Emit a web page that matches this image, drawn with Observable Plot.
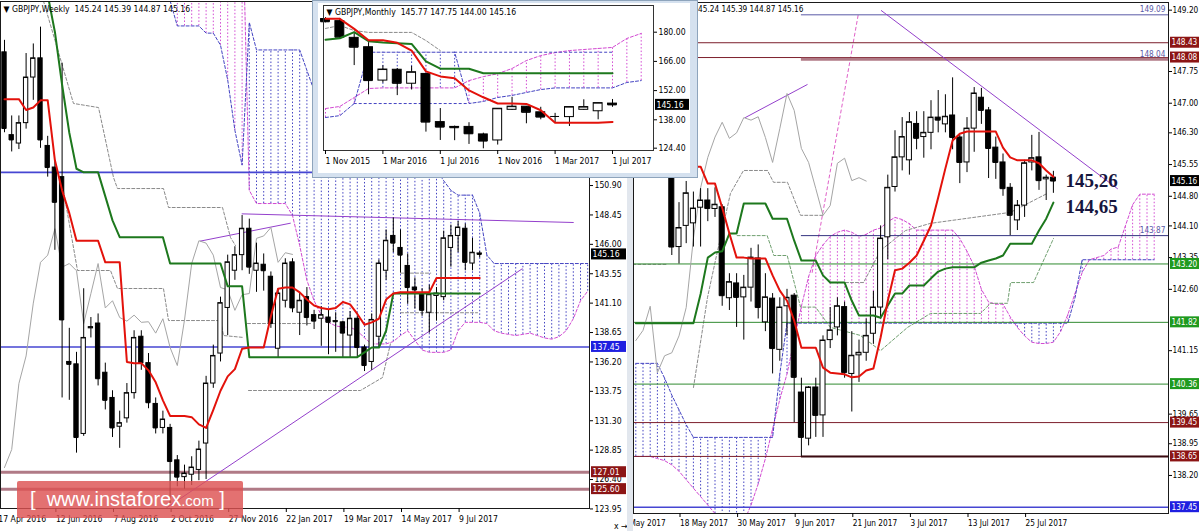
<!DOCTYPE html>
<html><head><meta charset="utf-8">
<script src="https://cdn.jsdelivr.net/npm/d3@7"></script>
<script src="https://cdn.jsdelivr.net/npm/@observablehq/plot@0.6"></script>
<style>
html,body{margin:0;padding:0;background:#fff;}
body{width:1200px;height:531px;position:relative;overflow:hidden;font-family:"DejaVu Sans Condensed","Liberation Sans",sans-serif;}
.abs{position:absolute;}
#sep{left:627px;top:0;width:6px;height:531px;background:#e2e7ee;}
#insetFrame{left:312px;top:0;width:386px;height:178px;background:#d5e1ef;border:1px solid #8ea4bc;box-sizing:border-box;}
#wm{left:17px;top:481px;width:226px;height:37px;background:rgba(221,82,82,0.82);border-radius:2px;color:#fff;font-family:"Liberation Sans",Arial,sans-serif;font-size:20px;line-height:37px;padding-left:13px;box-sizing:border-box;white-space:pre;}
#wm span{font-size:15px;}
</style></head>
<body>
<div id="left" class="abs" style="left:0;top:0"></div>
<div id="sep" class="abs"></div>
<div id="right" class="abs" style="left:633px;top:0"></div>
<div id="insetFrame" class="abs"></div>
<div id="inset" class="abs" style="left:318px;top:3px"></div>
<div id="wm" class="abs">[  www.instaforex<span>.com</span> ]</div>
<script>
// ================= WEEKLY (left panel) =================
const wkTitle = "\u25BC GBPJPY,Weekly  145.24 145.39 144.87 145.16";
const wkOpen  = [162.0,155.1,154.4,156.1,159.9,161.5,154.2,152.4,151.6,136.2,136.0,130.2,139.0,139.4,135.3,133.2,130.8,131.5,133.6,138.3,136.1,132.7,130.7,130.7,128.0,126.6,126.8,127.2,129.4,134.4,136.9,140.7,143.8,145.1,147.3,143.8,144.3,143.3,137.3,141.3,144.5,140.3,141.6,140.1,139.8,139.9,139.6,139.5,138.4,139.8,137.4,136.2,138.3,143.8,146.7,145.7,144.2,142.4,141.9,140.3,141.7,141.6,145.7,146.7,147.3,144.4,145.24];
const wkHigh  = [163.0,156.7,156.7,161.9,162.7,164.1,155.0,153.0,161.1,139.0,137.0,142.3,139.9,140.2,136.1,133.8,132.1,134.4,138.8,138.8,136.9,133.2,132.1,131.0,128.4,127.6,128.3,129.6,135.0,137.6,141.6,145.1,145.8,148.4,148.1,146.1,145.2,143.7,142.3,144.8,144.8,141.9,142.4,140.5,140.8,140.5,140.3,139.6,140.4,140.0,137.6,140.2,144.7,147.2,148.2,147.2,145.2,143.2,142.3,142.6,142.4,147.1,147.6,147.9,147.7,146.5,145.39];
const wkLow   = [155.3,153.7,153.9,155.6,158.0,154.0,151.6,145.5,133.2,133.0,128.6,130.0,138.2,134.2,132.2,129.9,129.0,131.1,133.1,135.5,132.3,130.2,130.2,124.4,125.8,125.6,125.9,126.3,126.4,134.0,136.2,138.4,143.0,143.8,143.5,142.0,142.1,139.0,136.5,140.7,140.3,138.4,139.2,138.9,137.5,136.8,137.0,136.5,136.5,136.5,135.4,135.5,137.4,143.0,145.3,143.6,141.0,140.6,140.0,138.6,139.6,141.3,144.1,145.3,143.8,143.8,144.87];
const wkClose = [155.65,154.7,156.1,159.9,161.5,154.7,152.4,149.5,139.7,136.0,129.9,138.2,139.1,134.8,133.0,130.7,131.1,133.6,138.2,136.1,132.8,130.7,131.4,127.9,126.6,126.9,127.4,128.9,134.4,136.7,141.1,144.5,145.1,147.3,144.1,144.4,143.8,139.4,141.9,144.4,140.7,141.3,139.9,139.6,140.1,139.5,139.55,138.6,139.8,137.4,135.9,139.7,144.4,146.3,146.1,145.1,142.4,142.2,140.5,141.8,141.9,146.5,146.7,147.4,144.5,145.3,145.16];
const wkTenkan = [158.1,158.1,158.1,157.2,157.4,158.0,158.0,153.0,150.5,148.6,146.3,146.3,146.3,146.3,144.5,144.5,144.5,136.2,136.1,136.1,135.5,134.5,133.0,131.7,131.7,131.7,131.6,131.0,130.7,132.2,133.8,135.0,135.6,137.3,137.4,137.4,137.4,140.0,142.3,142.4,142.4,142.0,141.4,140.9,140.7,140.6,140.7,141.2,141.0,140.2,139.3,139.5,139.8,141.4,141.9,142.0,142.0,142.0,142.0,142.0,143.2,143.2,143.2,143.2,143.2,143.2,143.2];
const wkKijun = [170,170,170,170,170,170,166.8,163.7,159.3,155.3,152.3,152.0,152.0,152.0,150.0,148.0,146.6,146.6,146.6,146.6,146.6,146.6,146.6,144.4,144.4,144.4,144.4,144.4,144.4,144.4,144.4,142.5,142.5,142.5,136.6,136.6,136.6,136.6,136.6,136.6,136.6,136.6,136.6,136.6,136.6,136.6,136.6,136.6,136.6,136.6,137.0,137.4,137.4,138.8,141.9,141.9,141.9,141.9,141.9,141.9,141.9,141.9,141.9,141.9,141.9,141.9,141.9];
const wkChikou = [127.4,128.9,134.4,136.7,141.1,144.5,145.1,147.3,144.1,144.4,143.8,139.4,141.9,144.4,140.7,141.3,139.9,139.6,140.1,139.5,139.55,138.6,139.8,137.4,135.9,139.7,144.4,146.3,146.1,145.1,142.4,142.2,140.5,141.8,141.9,146.5,146.7,147.4,144.5,145.3,145.16];
const wkCloudStart = 22;
const wkSpanA = [175,175,175,175,175,175,175,175,175,175,175,175,
  150.5,149.4,149.4,149.4,149.4,149.4,148.4,145.9,143.0,141.3,140.1,139.5,139.2,139.1,139.1,138.8,138.2,137.7,137.7,137.7,137.9,138.4,138.8,138.0,137.2,137.0,137.0,137.0,137.2,138.8,139.5,139.5,139.5,139.4,138.8,138.6,138.5,138.4,138.5,138.6,138.4,138.2,138.1,138.3,138.8,139.8,141.3,142.1];
const wkSpanB = [170,166.3,164.2,164.2,164.2,164.2,163.6,163.6,162.6,159.7,155.5,152.6,
  164.5,162.2,162.2,162.2,162.2,162.2,162.2,162.2,160.5,158.8,156,156,156,156,156,156,156,156,156,156,156,156,156,156,156,156,152.2,151.3,150.5,150.1,150.1,150.1,148.6,145.1,144.4,144.4,144.4,144.4,144.4,144.4,144.4,144.4,144.4,144.4,144.4,144.4,144.4,144.4];
const wkDashGray = [
  [[5.4,166.3],[9.58,157.74],[13.06,157.4],[15.14,151.57],[15.69,150.65],[22.08,150.65],[22.78,149.07],[30.28,149.07],[31.39,146.57],[32.08,145.9]],
  [[8.19,150.49],[10.14,143.82],[14.72,143.82],[15.69,142.32],[22.08,142.32],[22.78,139.65],[30.0,139.65],[30.42,138.4],[33.19,138.24]],
  [[33.89,133.82],[49.44,133.82],[52.5,134.9],[53.6,137.7]],
  [[33.75,139.4],[42.5,139.4]],
  [[55,143.6],[59.2,143.6]],
  [[55,140.3],[65.7,140.3]]
];
const wkTrends = [[[33.0,148.54],[79.0,147.82]], [[22.5,124.04],[71.9,143.96]], [[27.2,146.27],[39.7,147.76]]];
const wkLevels = [152.0, 137.45, 127.01, 125.60];
const wkLevelKinds = ["blue","blue","rose","rose"];
const wkTagValues = [145.16, 137.45, 127.01, 125.60];
const wkTagKinds = ["price","blue","red","red"];
const wkYTicks = [150.90,148.45,146.00,143.55,141.10,138.65,136.20,133.75,131.30,128.85,126.40,123.95];
const wkXTickIdx = [-1,7,15,23,31,39,47,55,63];
const wkXTickLabels = ["17 Apr 2016","12 Jun 2016","7 Aug 2016","2 Oct 2016","27 Nov 2016","22 Jan 2017","19 Mar 2017","14 May 2017","9 Jul 2017"];

// ================= DAILY (right panel) =================
const dyTitle = "\u25BC GBPJPY,Daily  145.24 145.39 144.87 145.16";
const dyStart = -6;
const dyOpen  = [146.0,146.8,147.3,147.1,146.5,146.3,143.6,144.1,144.16,144.53,144.7,144.5,144.54,142.39,142.74,142.41,142.64,143.33,141.82,142.38,141.17,142.2,142.45,140.16,139.07,140.28,139.62,141.4,141.7,142.18,140.6,141.04,141.1,141.55,142.17,143.83,145.02,145.72,145.65,146.51,146.2,146.3,146.66,146.5,146.71,146.19,145.6,146.4,147.13,146.83,145.95,145.6,145.0,144.23,144.58,145.6,145.72,145.2,145.24];
const dyHigh  = [147.0,147.5,147.6,147.2,147.0,146.5,144.65,145.15,144.9,144.98,144.98,145.0,144.6,142.97,142.97,142.93,143.57,143.65,142.97,142.5,142.4,142.6,142.5,140.5,140.3,140.5,141.5,142.17,142.4,142.3,141.6,141.4,141.9,142.55,144.1,145.3,146.35,146.66,146.78,146.8,146.8,147.06,147.3,147.2,147.6,146.24,146.66,147.37,147.35,146.9,146.2,145.8,145.1,144.7,145.65,146.24,146.31,145.3,145.39];
const dyLow   = [145.9,146.5,146.9,145.8,146.0,143.4,143.2,143.68,143.6,143.6,144.2,144.3,142.2,142.1,141.7,141.4,142.3,141.9,141.6,140.6,140.9,141.5,139.45,138.65,138.9,139.1,139.1,141.2,141.5,140.5,139.7,140.4,140.9,141.3,141.9,143.3,144.9,145.4,145.3,145.9,145.7,145.9,146.3,146.3,145.9,145.1,145.36,145.84,146.5,145.22,145.2,144.8,143.87,143.99,144.3,145.4,144.94,144.7,144.87];
const dyClose = [146.8,147.3,147.1,146.5,146.3,143.6,144.05,144.87,144.51,144.7,144.51,144.6,142.45,142.77,142.41,142.64,143.35,142.17,142.41,141.2,142.17,142.4,140.52,139.1,140.28,139.62,141.39,141.63,142.2,140.63,141.03,141.1,141.5,142.17,143.8,145.0,145.72,146.2,146.55,146.17,146.3,146.66,146.6,146.68,146.19,145.6,146.4,147.23,146.83,145.93,145.6,144.98,144.35,144.58,145.58,145.7,145.17,145.24,145.16];
const dyTenkan = [146.8,146.8,146.8,146.8,146.6,146.3,145.9,145.6,145.5,145.5,145.1,145.1,144.53,143.92,143.35,143.35,143.33,143.33,143.33,142.93,142.57,142.33,141.86,141.22,141.22,141.22,140.75,140.63,140.61,140.59,140.52,140.54,140.68,140.73,141.46,142.33,143.05,143.09,143.23,143.4,143.75,144.11,144.77,145.46,146.12,146.28,146.33,146.33,146.33,146.33,146.33,145.95,145.72,145.65,145.65,145.65,145.58,145.41,145.26];
const dyKijun = [141.8,141.8,141.8,141.8,141.8,141.8,141.8,141.8,141.8,142.49,143.35,143.47,143.5,143.92,143.92,144.63,144.63,144.63,144.63,144.27,144.27,144.27,143.75,143.28,143.28,143.28,142.93,142.76,142.76,142.76,142.33,141.98,141.98,141.98,141.93,142.22,142.5,142.5,142.69,142.69,142.69,142.86,143.02,143.09,143.12,143.12,143.12,143.12,143.23,143.28,143.33,143.4,143.68,143.68,143.68,143.68,143.99,144.27,144.65];
const dyChikou = [141.39,141.63,142.2,140.63,141.03,141.1,141.5,142.17,143.8,145.0,145.72,146.2,146.55,146.17,146.3,146.66,146.6,146.68,146.19,145.6,146.4,147.23,146.83,145.93,145.6,144.98,144.35,144.58,145.58,145.7,145.17,145.24,145.16];
const dySpanA = [138.65,138.65,138.65,138.6,138.55,138.45,138.3,138.1,137.9,137.7,137.5,137.3,137.1,137.0,136.9,137.1,137.5,138.0,138.6,139.3,140.0,140.6,141.4,142.2,142.9,143.4,143.65,143.85,143.95,144.0,143.95,143.85,143.9,144.0,144.05,144.2,144.3,144.25,144.15,144.0,144.0,144.0,144.0,144.0,144.0,143.8,143.5,143.15,142.6,142.3,142.25,142.25,141.95,141.7,141.5,141.35,141.32,141.32,141.35,141.6,142.0,142.5,143.0,143.3,143.35,143.4,143.55,143.6,144.1,144.6,144.85,144.85,144.85];
const dySpanB = [140.85,140.85,140.85,140.85,140.5,140.1,139.75,139.4,139.1,139.1,139.1,139.1,139.1,139.1,139.1,139.1,139.1,139.1,139.1,139.1,140.6,141.8,141.8,141.8,141.8,141.8,141.8,141.8,141.8,141.8,141.8,141.8,141.8,141.8,141.8,141.8,141.8,141.8,141.8,141.8,141.8,141.8,141.8,141.8,141.8,141.8,141.8,141.8,141.8,141.8,141.8,141.8,141.8,141.8,141.8,141.8,141.8,141.8,141.8,141.8,141.8,142.4,143.3,143.3,143.3,143.3,143.3,143.3,143.3,143.3,143.3,143.3,143.3];
const dyDashGray = [
  [[-6.4,143.19],[-1.6,143.19]],
  [[2.01,140.28],[3.96,142.41],[5.21,143.40],[7.15,144.87],[8.96,145.41],[12.29,145.41],[13.13,145.13],[15.07,145.13],[16.88,144.35],[20.07,144.35]],
  [[21.04,142.76],[25.63,142.76],[27.99,143.52],[31.46,143.99],[34.93,144.16],[46.04,144.42],[51.18,144.87]]
];
const dyDashGreen = [[8.08,143.87],[12.25,143.87],[13.17,143.4],[15.03,143.4],[16.88,142.18],[18.96,142.18],[21.04,141.7],[25.2,141.51],[27.99,141.15],[31.74,141.7],[34.93,142.03],[41.88,142.03],[43.26,142.27],[45.63,142.27],[46.04,142.76],[49.24,142.76],[52.01,143.8]];
const dyTrends = [[[28.1,149.19],[60.9,144.98]], [[9.2,146.66],[17.8,147.44]]];
const dySteep = [[18.5,143.0],[24.9,149.1]];
const dyLevels     = [149.09,148.43,148.08,148.04,143.87,143.20,141.82,140.36,139.45,138.65,138.65,137.45];
const dyLevelKinds = ["slate","maroon","maroon","rose","navy","green","green","green","maroon","maroon","dark","blue"];
const dyLevelFrom  = [17,null,null,17,17,null,null,null,null,null,17,null];
const dyInlineLabels = [149.09, 148.04, 143.87];
const dyTagValues = [148.43,148.08,145.16,143.20,141.82,140.36,139.45,138.65,137.45];
const dyTagKinds  = ["red","red","price","green","green","green","red","red","blue"];
const dyYTicks = [149.20,147.75,147.00,146.30,145.55,144.80,144.10,143.35,142.60,141.15,139.65,138.95,138.20];
const dyXTickIdx = [-8,0,8,16,24,32,40,48];
const dyXTickLabels = ["8 May 2017","18 May 2017","30 May 2017","9 Jun 2017","21 Jun 2017","3 Jul 2017","13 Jul 2017","25 Jul 2017"];
const dyAnnotations = ["145,26","144,65"];

// ================= MONTHLY (inset) =================
const moTitle = "\u25BC GBPJPY,Monthly  145.77 147.75 144.00 145.16";
const moOpen  = [186.3,185.3,177.3,172.8,156.8,162.0,155.3,160.0,136.9,134.6,134.6,131.0,128.1,142.8,144.3,141.6,139.6,139.3,142.8,142.1,145.77];
const moHigh  = [187.0,186.6,180.0,175.0,163.9,162.6,163.6,160.2,143.4,135.0,136.6,131.6,143.3,148.8,144.4,144.0,141.1,144.1,147.6,146.0,147.75];
const moLow   = [184.5,176.9,164.0,150.0,155.6,149.6,152.3,132.1,128.1,128.0,126.2,124.1,125.9,142.5,136.1,138.0,136.7,134.8,142.5,138.0,144.00];
const moClose = [185.0,177.6,172.8,156.8,162.1,155.5,160.8,136.9,134.5,134.2,131.3,127.8,143.3,144.3,141.6,139.3,139.6,144.1,144.1,146.0,145.16];
const moTenkan = [186.4,186.4,181.6,176.1,176.1,174.9,171.2,161.2,158.8,157.9,152.1,148.8,145.8,145.8,145.6,142.6,136.6,136.6,136.6,136.6,137.0];
const moKijun  = [176.4,177.1,180.0,175.7,175.1,174.7,174.4,166.0,162.5,162.5,162.5,160.3,160.3,160.3,160.3,160.3,160.3,160.3,160.3,160.3,160.3];
const moSpanA = [143.4,144.4,148.7,153.0,153.3,153.3,153.3,153.3,153.3,153.3,156.8,158.7,160.1,162.6,166.4,168.8,170.2,171.2,171.7,172.2,172.7,177.0,179.4];
const moSpanB = [139.1,140.0,145.8,170.4,170.4,170.4,170.4,170.4,170.4,170.4,145.8,146.8,148.7,149.7,151.1,152.5,153.3,153.3,153.3,153.3,153.3,155.9,156.8];
const moDashRules = [{from:9,to:20,v:170.4},{from:2,to:10,v:145.8}];
const moDashGray = [[0,181.8],[1,183.2],[2,180.8],[3,179.9],[6,179.9],[7,176.0],[8,171.2]];
const moTagValues = [145.16];
const moTagKinds = ["price"];
const moYTicks = [180.00,166.00,152.00,138.00,124.40];
const moXTickIdx = [0,4,8,12,16,20];
const moXTickLabels = ["1 Nov 2015","1 Mar 2016","1 Jul 2016","1 Nov 2016","1 Mar 2017","1 Jul 2017"];

// ================= styles & helpers =================
const FONT = '"DejaVu Sans Condensed","Liberation Sans",sans-serif';
const C = {red:"#e3120b", green:"#1d781d", chikou:"#a5a5a5", pink:"#d24ad2", blue:"#4343c2", purple:"#9440cc", gray:"#8a8a8a", dgreen:"#6f9f6f", steep:"#e060c8"};
const TAG = {price:"#000000", blue:"#1f1fe0", red:"#8c1515", green:"#1f9a1f"};
const LEVEL = {blue:"#4646d2", rose:"#b07a86", maroon:"#7c1f2c", green:"#2f8a2f", navy:"#343480", slate:"#5a5aa6", dark:"#3a0a10"};
const LEVEL_W = {rose:3, dark:2, blue:1.6};

function candles(rows, hw) {
  return [
    Plot.ruleX(rows, {x:"x", y1:"l", y2:"h", stroke:"#000", strokeWidth:1}),
    Plot.rect(rows, {x1:d=>d.x-hw, x2:d=>d.x+hw, y1:"o", y2:"c", fill:d=>d.c<d.o?"#000":"#fff", stroke:"#000", strokeWidth:1}),
    Plot.ruleY(rows, {y:"c", x1:d=>d.x-hw, x2:d=>d.x+hw, stroke:"#000", strokeWidth:1})
  ];
}
function cloud(rows) {
  return [
    Plot.ruleX(rows, {x:"x", y1:d=>Math.min(d.a,d.b), y2:d=>Math.max(d.a,d.b), stroke:d=>d.a>=d.b?C.pink:C.blue, strokeDasharray:"1.5,2", strokeWidth:1, clip:true}),
    Plot.line(rows, {x:"x", y:"a", stroke:C.pink, strokeDasharray:"3,2", strokeWidth:1, clip:true}),
    Plot.line(rows, {x:"x", y:"b", stroke:C.blue, strokeDasharray:"3,2", strokeWidth:1, clip:true})
  ];
}
function tags(values, kinds, xs, ys, px1, px2, fs) {
  const rows = values.map((v,k)=>({v, kind:kinds[k]}));
  const xa = xs.invert(px1), xb = xs.invert(px2);
  return [
    Plot.rect(rows, {x1:xa, x2:xb, y1:d=>ys.invert(ys(d.v)-5.5), y2:d=>ys.invert(ys(d.v)+5.5), fill:d=>TAG[d.kind]}),
    Plot.text(rows, {x:xa, y:"v", text:d=>d.v.toFixed(2), fill:"#fff", textAnchor:"start", dx:1, fontSize:fs})
  ];
}
const series = (arr, start=0) => arr.map((v,k)=>({x:k+start, v}));
const ohlc = (o,h,l,c,start=0) => o.map((ov,k)=>({x:k+start, o:ov, h:h[k], l:l[k], c:c[k]}));
const cloudRows = (a,b,start) => a.map((av,k)=>({x:k+start, a:av, b:b[k]}));
const pairLine = (pts, opts) => Plot.line(pts, {x:d=>d[0], y:d=>d[1], clip:true, ...opts});
const baseStyle = {fontFamily:FONT, fontSize:"8.6px", background:"#fff", overflow:"hidden", color:"#000"};

// ================= LEFT =================
{
  const W=630, H=531, ml=0, mr=41, mt=1, mb=23;
  const xDom = [-4/7.2, 585/7.2];
  const yDom = [166.32-508/12, 166.32-1/12];
  const xs = d3.scaleLinear(xDom, [ml, W-mr]);
  const ys = d3.scaleLinear(yDom, [H-mb, mt]);
  const lab = new Map(wkXTickIdx.map((d,k)=>[d, wkXTickLabels[k]]));
  const levelRows = wkLevels.map((v,k)=>({v, kind:wkLevelKinds[k]}));
  const chart = Plot.plot({
    width:W, height:H, marginLeft:ml, marginRight:mr, marginTop:mt, marginBottom:mb,
    style: baseStyle,
    x:{domain:xDom, axis:null}, y:{domain:yDom, axis:null},
    marks: [
      ...cloud(cloudRows(wkSpanA, wkSpanB, wkCloudStart)),
      ...wkDashGray.map(p=>pairLine(p, {stroke:C.gray, strokeDasharray:"3,2", strokeWidth:1})),
      Plot.ruleY(levelRows, {y:"v", stroke:d=>LEVEL[d.kind], strokeWidth:d=>LEVEL_W[d.kind]??1}),
      ...wkTrends.map(p=>pairLine(p, {stroke:C.purple, strokeWidth:1})),
      Plot.line(series(wkChikou), {x:"x", y:"v", stroke:C.chikou, strokeWidth:1, clip:true}),
      ...candles(ohlc(wkOpen,wkHigh,wkLow,wkClose), 0.3),
      Plot.line(series(wkKijun), {x:"x", y:"v", stroke:C.green, strokeWidth:2, clip:true}),
      Plot.line(series(wkTenkan), {x:"x", y:"v", stroke:C.red, strokeWidth:2, clip:true}),
      Plot.frame({stroke:"#1a1a1a"}),
      Plot.axisY(wkYTicks, {anchor:"right", tickSize:3, tickPadding:2, tickFormat:d=>d.toFixed(2)}),
      Plot.axisX(wkXTickIdx, {anchor:"bottom", tickSize:4, tickPadding:3, textAnchor:"start", dx:1, tickFormat:d=>lab.get(d)}),
      ...tags(wkTagValues, wkTagKinds, xs, ys, 591, 626, 8.6),
      Plot.text([wkTitle], {frameAnchor:"top-left", text:d=>d, dx:3, dy:4, textAnchor:"start", lineAnchor:"top"})
    ]
  });
  document.getElementById("left").append(chart);
}

// ================= RIGHT =================
{
  const W=567, H=531, ml=0, mr=32, mt=2, mb=18;
  const xDom = [(633-678.5)/7.2, (1168-678.5)/7.2];
  const yDom = [147.75-(513-71)/42.3, 147.75+(71-2)/42.3];
  const xs = d3.scaleLinear(xDom, [ml, W-mr]);
  const ys = d3.scaleLinear(yDom, [H-mb, mt]);
  const lab = new Map(dyXTickIdx.map((d,k)=>[d, dyXTickLabels[k]]));
  const levelRows = dyLevels.map((v,k)=>({v, kind:dyLevelKinds[k], from:dyLevelFrom[k]??xDom[0]}));
  const last = dyStart + dyTenkan.length - 1;
  const ann = [{x:last, v:dyTenkan[dyTenkan.length-1], t:dyAnnotations[0]}, {x:last, v:dyKijun[dyKijun.length-1], t:dyAnnotations[1]}];
  const chart = Plot.plot({
    width:W, height:H, marginLeft:ml, marginRight:mr, marginTop:mt, marginBottom:mb,
    style: {...baseStyle, fontSize:"8.2px"},
    x:{domain:xDom, axis:null}, y:{domain:yDom, axis:null},
    marks: [
      ...cloud(cloudRows(dySpanA, dySpanB, dyStart)),
      ...dyDashGray.map(p=>pairLine(p, {stroke:C.gray, strokeDasharray:"3,2", strokeWidth:1})),
      pairLine(dyDashGreen, {stroke:C.dgreen, strokeDasharray:"3,2", strokeWidth:1}),
      pairLine(dySteep, {stroke:C.steep, strokeDasharray:"3,3", strokeWidth:1}),
      Plot.ruleY(levelRows, {y:"v", x1:"from", x2:xDom[1], stroke:d=>LEVEL[d.kind], strokeWidth:d=>LEVEL_W[d.kind]??1}),
      Plot.text(dyInlineLabels, {x:xDom[1], y:d=>d, text:d=>d.toFixed(2), textAnchor:"end", dx:-3, dy:-5, fill:LEVEL.slate}),
      ...dyTrends.map(p=>pairLine(p, {stroke:C.purple, strokeWidth:1})),
      Plot.line(series(dyChikou, dyStart), {x:"x", y:"v", stroke:C.chikou, strokeWidth:1, clip:true}),
      ...candles(ohlc(dyOpen,dyHigh,dyLow,dyClose,dyStart), 0.35),
      Plot.line(series(dyKijun, dyStart), {x:"x", y:"v", stroke:C.green, strokeWidth:2, clip:true}),
      Plot.line(series(dyTenkan, dyStart), {x:"x", y:"v", stroke:C.red, strokeWidth:2, clip:true}),
      Plot.text(ann, {x:"x", y:"v", text:"t", dx:12, dy:4, textAnchor:"start", fontFamily:"Liberation Serif", fontWeight:"bold", fontSize:19, fill:"#16163e"}),
      Plot.frame({stroke:"#1a1a1a"}),
      Plot.axisY(dyYTicks, {anchor:"right", tickSize:3, tickPadding:1, tickFormat:d=>d.toFixed(2)}),
      Plot.axisX(dyXTickIdx, {anchor:"bottom", tickSize:4, tickPadding:3, textAnchor:"start", dx:1, tickFormat:d=>lab.get(d)}),
      ...tags(dyTagValues, dyTagKinds, xs, ys, 537, 566, 8.2),
      Plot.text([dyTitle], {x:xs.invert(170), frameAnchor:"top", text:d=>d, dy:4, textAnchor:"end", lineAnchor:"top"})
    ]
  });
  document.getElementById("right").append(chart);
}

// ================= INSET =================
{
  const W=372, H=170, ml=5, mr=37, mt=2, mb=23;
  const xDom = [(323-325)/14.35, (653-325)/14.35];
  const yDom = [180-(150-31.7)/2.086, 180+(31.7-5)/2.086];
  const xs = d3.scaleLinear(xDom, [ml, W-mr]);
  const ys = d3.scaleLinear(yDom, [H-mb, mt]);
  const lab = new Map(moXTickIdx.map((d,k)=>[d, moXTickLabels[k]]));
  const chart = Plot.plot({
    width:W, height:H, marginLeft:ml, marginRight:mr, marginTop:mt, marginBottom:mb,
    style: baseStyle,
    x:{domain:xDom, axis:null}, y:{domain:yDom, axis:null},
    marks: [
      ...cloud(cloudRows(moSpanA, moSpanB, 0)),
      Plot.ruleY(moDashRules, {y:"v", x1:"from", x2:"to", stroke:C.blue, strokeDasharray:"3,2", strokeWidth:1}),
      pairLine(moDashGray, {stroke:C.gray, strokeDasharray:"3,2", strokeWidth:1}),
      ...candles(ohlc(moOpen,moHigh,moLow,moClose), 0.31),
      Plot.line(series(moKijun), {x:"x", y:"v", stroke:C.green, strokeWidth:2, clip:true}),
      Plot.line(series(moTenkan), {x:"x", y:"v", stroke:C.red, strokeWidth:2, clip:true}),
      Plot.frame({stroke:"#333"}),
      Plot.axisY(moYTicks, {anchor:"right", tickSize:3, tickPadding:2, tickFormat:d=>d.toFixed(2)}),
      Plot.axisX(moXTickIdx, {anchor:"bottom", tickSize:4, tickPadding:3, textAnchor:"start", dx:0, tickFormat:d=>lab.get(d)}),
      ...tags(moTagValues, moTagKinds, xs, ys, 337, 371, 8.6),
      Plot.text([moTitle], {frameAnchor:"top-left", text:d=>d, dx:3, dy:3, textAnchor:"start", lineAnchor:"top"})
    ]
  });
  document.getElementById("inset").append(chart);
}
</script>
</body></html>
